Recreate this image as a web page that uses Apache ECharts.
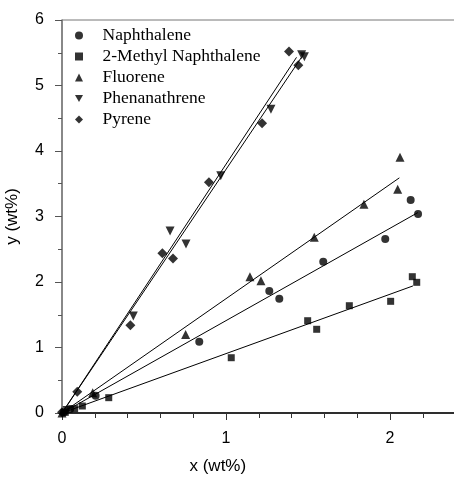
<!DOCTYPE html>
<html>
<head>
<meta charset="utf-8">
<script src="https://cdn.jsdelivr.net/npm/echarts@6/dist/echarts.min.js"></script>
<style>html,body{margin:0;padding:0;background:#fff;}#c{width:454px;height:479px;}</style>
</head>
<body>
<div id="c"></div>
<script>
const seriesNames = ['Naphthalene', '2-Methyl Naphthalene', 'Fluorene', 'Phenanathrene', 'Pyrene'];

const naphX = [0.01, 0.05, 0.205, 0.837, 1.264, 1.325, 1.593, 1.971, 2.126, 2.171];
const naphY = [0.01, 0.06, 0.264, 1.089, 1.863, 1.745, 2.310, 2.656, 3.252, 3.038];

const methylX = [0.02, 0.077, 0.124, 0.285, 1.032, 1.498, 1.553, 1.752, 2.004, 2.136, 2.163];
const methylY = [0.01, 0.066, 0.107, 0.234, 0.844, 1.409, 1.278, 1.638, 1.705, 2.081, 1.995];

const fluoreneX = [0.00, 0.187, 0.754, 1.146, 1.213, 1.538, 1.841, 2.047, 2.061];
const fluoreneY = [0.00, 0.31, 1.20, 2.081, 2.020, 2.682, 3.186, 3.415, 3.904];

const phenX = [0.03, 0.435, 0.659, 0.756, 0.968, 1.274, 1.461, 1.478];
const phenY = [0.04, 1.48, 2.78, 2.58, 3.623, 4.637, 5.47, 5.44];

const pyreneX = [0.00, 0.093, 0.417, 0.612, 0.677, 0.896, 1.220, 1.384, 1.441];
const pyreneY = [0.01, 0.325, 1.34, 2.44, 2.36, 3.522, 4.423, 5.52, 5.31];

// fitted lines (start, end)
const naphFit = [[0, 0], [2.17, 3.06]];
const methylFit = [[0, 0], [2.14, 1.94]];
const fluoreneFit = [[0, 0], [2.057, 3.59]];
const phenFit = [[0, 0], [1.46, 5.43]];
const pyreneFit = [[0, 0], [1.43, 5.43]];

const xTicks = [0, 1, 2];
const yTicks = [0, 1, 2, 3, 4, 5, 6];

const zip = (xs, ys) => xs.map((x, i) => [x, ys[i]]);
const downTri = 'path://M0,0 L10,0 L5,9 Z';

function scatter(name, xs, ys, symbol, size) {
  return {
    name: name, type: 'scatter', data: zip(xs, ys),
    symbol: symbol, symbolSize: size,
    itemStyle: { color: '#000' }, z: 3
  };
}
function fit(data) {
  return {
    type: 'line', data: data, showSymbol: false, symbol: 'none',
    lineStyle: { color: '#000', width: 1 }, silent: true, z: 2
  };
}

const chart = echarts.init(document.getElementById('c'), null, { renderer: 'canvas' });
chart.setOption({
  animation: false,
  backgroundColor: '#fff',
  grid: { left: 62, top: 20, width: 393.6, height: 393, show: true, borderColor: '#777', borderWidth: 1,
    containLabel: false, outerBoundsMode: 'none' },
  legend: {
    data: seriesNames, orient: 'vertical', left: 75, top: 25, padding: 0,
    itemWidth: 8, itemHeight: 8, itemGap: 0,
    textStyle: { fontFamily: 'Liberation Serif', fontSize: 17.5, color: '#000', lineHeight: 21, padding: [0, 0, 0, 14.5] }
  },
  xAxis: {
    type: 'value', min: 0, max: 2.4, interval: 1,
    name: 'x (wt%)', nameLocation: 'middle', nameGap: 45,
    nameTextStyle: { fontFamily: 'Liberation Sans', fontSize: 17, color: '#000', padding: [0, 82, 0, 0] },
    axisLine: { show: true, lineStyle: { color: '#000', width: 1.5 } },
    axisTick: { show: true, length: 7, lineStyle: { color: '#333' } },
    minorTick: { show: true, splitNumber: 5, length: 5, lineStyle: { color: '#333' } },
    axisLabel: { margin: 18, fontFamily: 'Liberation Sans', fontSize: 16, color: '#000', showMaxLabel: false,
      formatter: v => (xTicks.indexOf(v) >= 0 ? String(v) : '') },
    splitLine: { show: false }
  },
  yAxis: {
    type: 'value', min: 0, max: 6, interval: 1,
    name: 'y (wt%)', nameLocation: 'middle', nameGap: 41,
    nameTextStyle: { fontFamily: 'Liberation Sans', fontSize: 17, color: '#000' },
    axisLine: { show: true, lineStyle: { color: '#777', width: 1.5 } },
    axisTick: { show: true, length: 7, lineStyle: { color: '#555' } },
    minorTick: { show: true, splitNumber: 2, length: 4, lineStyle: { color: '#555' } },
    axisLabel: { margin: 18, fontFamily: 'Liberation Sans', fontSize: 16, color: '#000',
      formatter: v => (yTicks.indexOf(v) >= 0 ? String(v) : '') },
    splitLine: { show: false }
  },
  series: [
    fit(naphFit), fit(methylFit), fit(fluoreneFit), fit(phenFit), fit(pyreneFit),
    scatter(seriesNames[0], naphX, naphY, 'circle', 8),
    scatter(seriesNames[1], methylX, methylY, 'rect', 7),
    scatter(seriesNames[2], fluoreneX, fluoreneY, 'triangle', 9),
    scatter(seriesNames[3], phenX, phenY, downTri, 9),
    scatter(seriesNames[4], pyreneX, pyreneY, 'diamond', 10)
  ]
});
</script>
</body>
</html>
